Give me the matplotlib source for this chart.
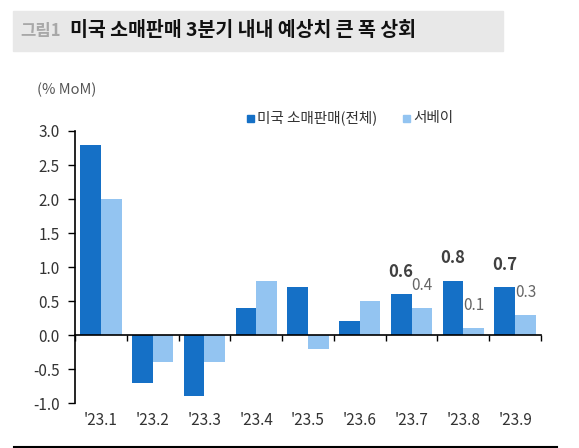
import matplotlib.pyplot as plt
from matplotlib.patches import Rectangle
from matplotlib.lines import Line2D

plt.rcParams['font.family'] = ['Noto Sans CJK KR', 'DejaVu Sans']

# data
months = ["'23.1", "'23.2", "'23.3", "'23.4", "'23.5", "'23.6", "'23.7", "'23.8", "'23.9"]
retail_total = [2.8, -0.7, -0.9, 0.4, 0.7, 0.2, 0.6, 0.8, 0.7]
survey = [2.0, -0.4, -0.4, 0.8, -0.2, 0.5, 0.4, 0.1, 0.3]
labeled = [6, 7, 8]   # 값 표시할 월

dark = '#1570C6'
light = '#93C4F1'

W, H = 579, 448
fig = plt.figure(figsize=(W / 100, H / 100), dpi=100)

# 제목 배경
fig.patches.append(Rectangle((13 / W, 1 - 51 / H), (503 - 13) / W, 40 / H,
                             transform=fig.transFigure, color='#E8E8E8', zorder=0))
fig.text(20 / W, 1 - 31 / H, '그림1', fontsize=12, color='#A8A8A8', fontweight='bold', va='center')
fig.text(70 / W, 1 - 31 / H, '미국 소매판매 3분기 내내 예상치 큰 폭 상회', fontsize=14,
         color='#111111', fontweight='bold', va='center')

fig.text(37 / W, 1 - 90 / H, '(% MoM)', fontsize=10.5, color='#555555', va='center')

# 범례
fig.patches.append(Rectangle((247 / W, 1 - 122 / H), 7 / W, 7 / H, transform=fig.transFigure, color=dark))
fig.text(257 / W, 1 - 118 / H, '미국 소매판매(전체)', fontsize=10.5, color='#333333', va='center')
fig.patches.append(Rectangle((403 / W, 1 - 122 / H), 7 / W, 7 / H, transform=fig.transFigure, color=light))
fig.text(413 / W, 1 - 118 / H, '서베이', fontsize=10.5, color='#333333', va='center')

# 하단 선
fig.lines.append(Line2D([14 / W, 557 / W], [1 - 446.5 / H, 1 - 446.5 / H],
                        transform=fig.transFigure, color='black', lw=1.5))

ax = fig.add_axes([75 / W, 1 - 403 / H, (541 - 75) / W, (403 - 131) / H])
x = list(range(len(months)))
bw = 0.4
ax.bar([i - bw / 2 for i in x], retail_total, width=bw, color=dark, zorder=2)
ax.bar([i + bw / 2 for i in x], survey, width=bw, color=light, zorder=2)

for i in labeled:
    ax.text(i - bw / 2, retail_total[i] + 0.33, f'{retail_total[i]:.1f}', ha='center', va='center',
            fontsize=12, fontweight='bold', color='#404040')
    ax.text(i + bw / 2, survey[i] + 0.33, f'{survey[i]:.1f}', ha='center', va='center',
            fontsize=11, color='#666666')

ax.set_xlim(-0.5, len(months) - 0.5)
ax.set_ylim(-1.0, 3.0)
ax.set_yticks([3.0, 2.5, 2.0, 1.5, 1.0, 0.5, 0.0, -0.5, -1.0])
ax.set_yticklabels([f'{v:.1f}' for v in [3.0, 2.5, 2.0, 1.5, 1.0, 0.5, 0.0, -0.5, -1.0]])
ax.tick_params(axis='y', labelsize=11, labelcolor='#333333', length=5, width=1, direction='out', pad=6)

ax.spines['top'].set_visible(False)
ax.spines['right'].set_visible(False)
ax.spines['bottom'].set_position(('data', 0))
ax.spines['left'].set_linewidth(1.2)
ax.spines['bottom'].set_linewidth(1.2)

ax.set_xticks([i + 0.5 for i in range(-1, len(months))])
ax.set_xticklabels([])
ax.tick_params(axis='x', length=4, width=1, direction='out')
for i, m in enumerate(months):
    ax.text(i, -1.25, m, ha='center', va='center', fontsize=11, color='#333333')

fig.savefig('out.png', dpi=100)
